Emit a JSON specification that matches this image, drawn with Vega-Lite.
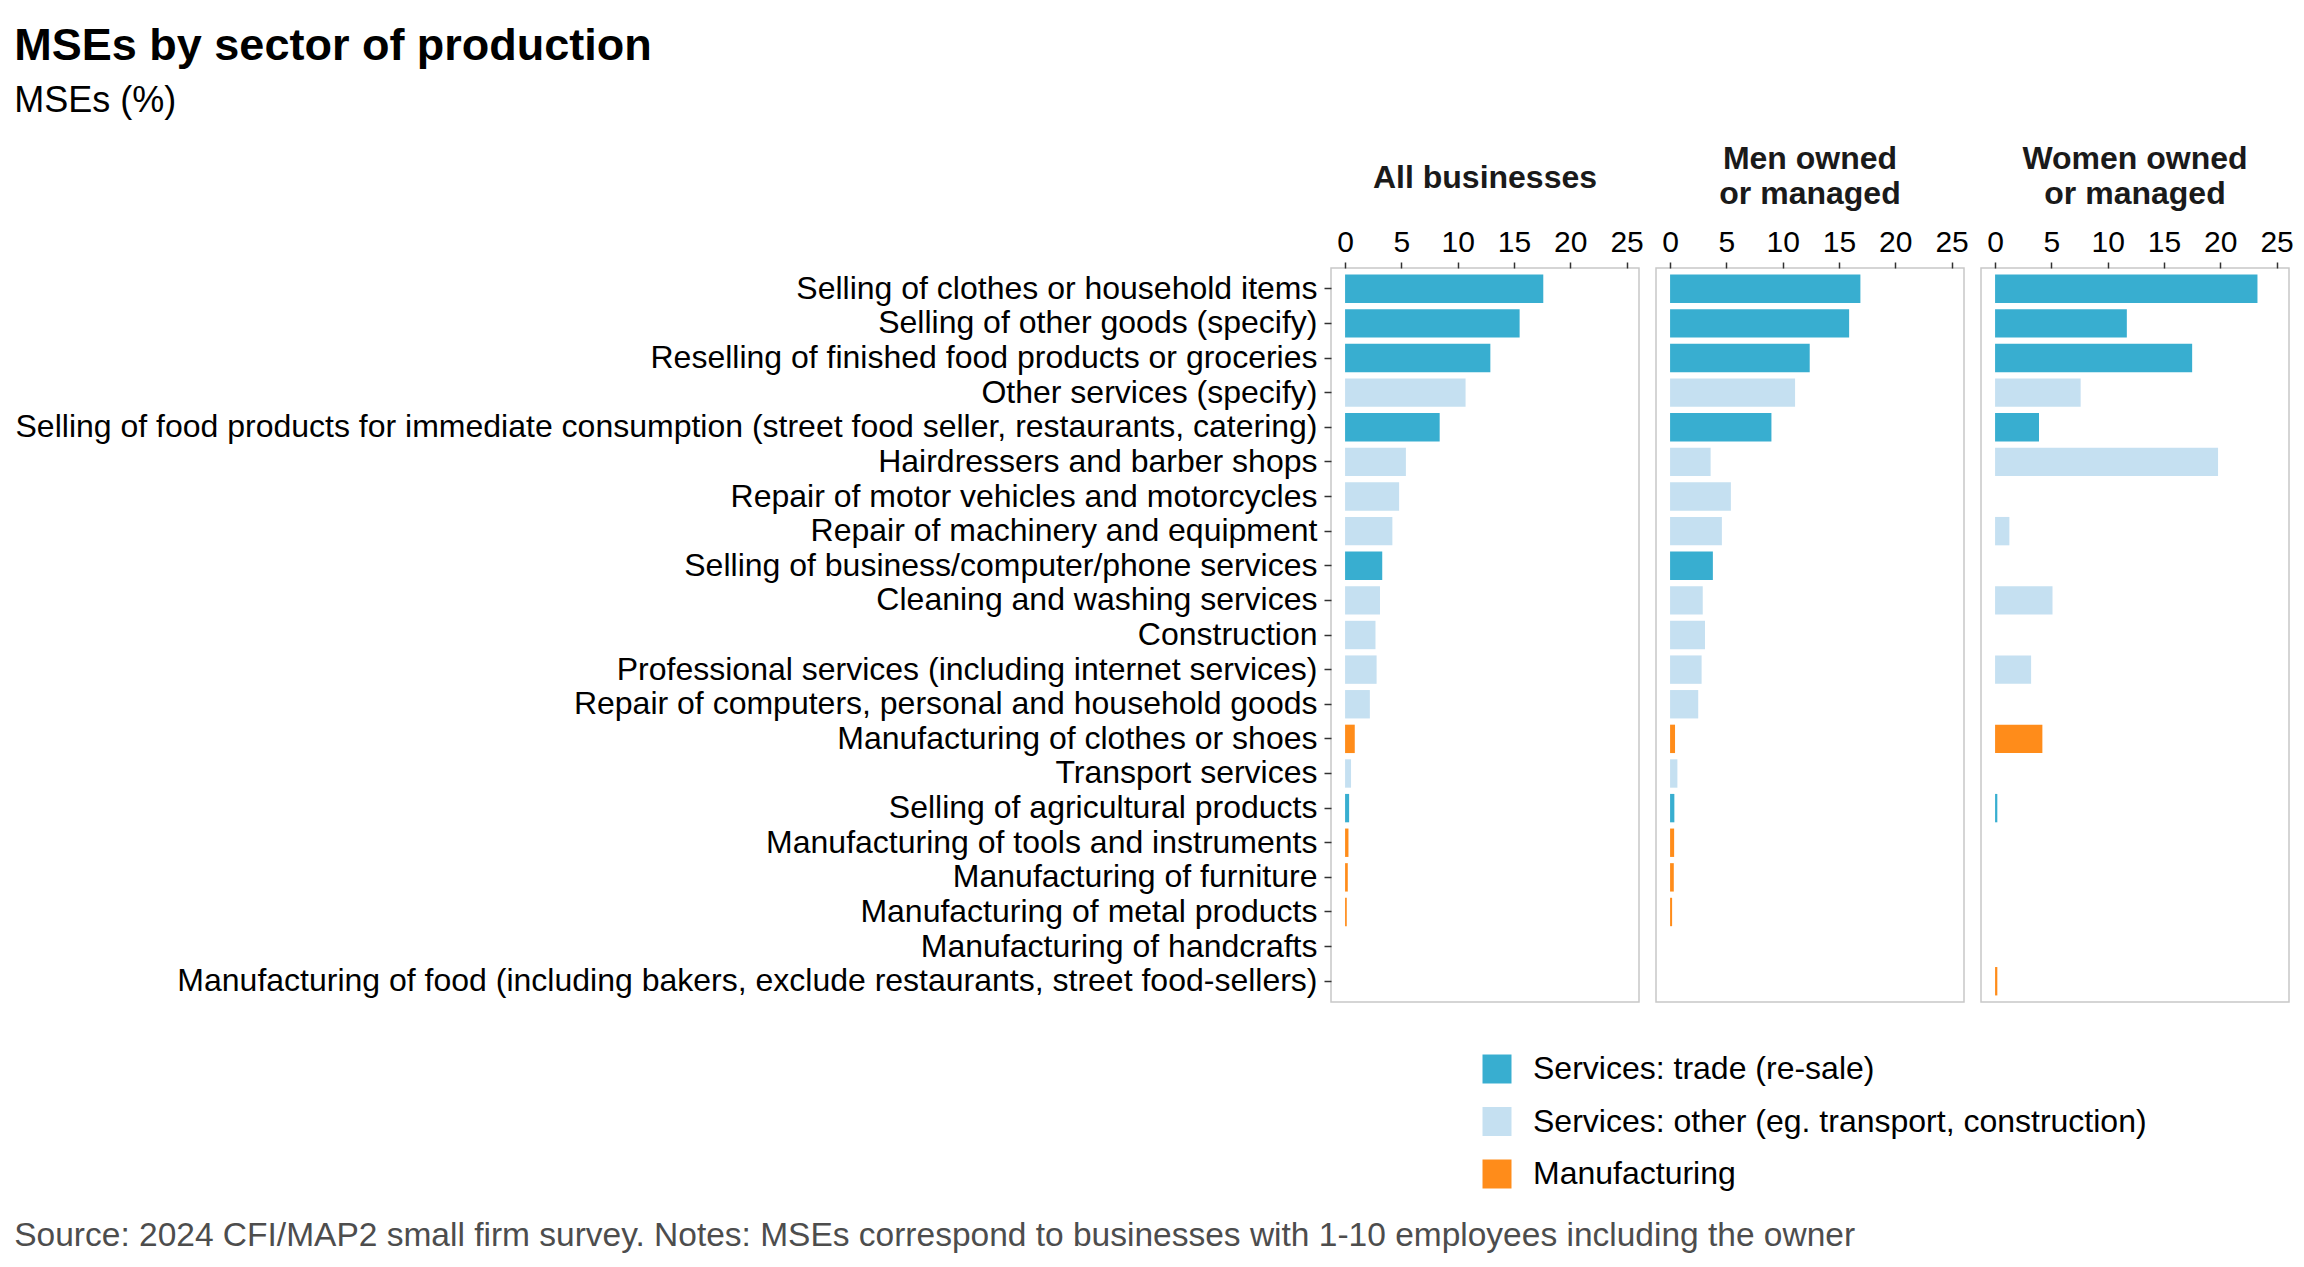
{
  "$schema": "https://vega.github.io/schema/vega-lite/v6.json",
  "background": "white",
  "padding": {"left": 14, "top": 24, "right": 14, "bottom": 14},
  "config": {
    "font": "Liberation Sans",
    "view": {"stroke": "#c8c8c8", "strokeWidth": 1.5},
    "axis": {"labelColor": "#000000", "tickColor": "#333333", "tickWidth": 1.5, "domain": false, "grid": false},
    "concat": {"spacing": 10}
  },
  "title": {
    "text": "Source: 2024 CFI/MAP2 small firm survey. Notes: MSEs correspond to businesses with 1-10 employees including the owner",
    "orient": "bottom", "anchor": "start", "frame": "bounds",
    "fontSize": 33.5, "fontWeight": "normal", "color": "#4d4d4d", "offset": 30
  },
  "datasets": {
    "d": [
      {"cat": "Selling of clothes or household items", "grp": "all", "val": 17.6, "sector": "Services: trade (re-sale)"},
      {"cat": "Selling of other goods (specify)", "grp": "all", "val": 15.5, "sector": "Services: trade (re-sale)"},
      {"cat": "Reselling of finished food products or groceries", "grp": "all", "val": 12.9, "sector": "Services: trade (re-sale)"},
      {"cat": "Other services (specify)", "grp": "all", "val": 10.7, "sector": "Services: other (eg. transport, construction)"},
      {"cat": "Selling of food products for immediate consumption (street food seller, restaurants, catering)", "grp": "all", "val": 8.4, "sector": "Services: trade (re-sale)"},
      {"cat": "Hairdressers and barber shops", "grp": "all", "val": 5.4, "sector": "Services: other (eg. transport, construction)"},
      {"cat": "Repair of motor vehicles and motorcycles", "grp": "all", "val": 4.8, "sector": "Services: other (eg. transport, construction)"},
      {"cat": "Repair of machinery and equipment", "grp": "all", "val": 4.2, "sector": "Services: other (eg. transport, construction)"},
      {"cat": "Selling of business/computer/phone services", "grp": "all", "val": 3.3, "sector": "Services: trade (re-sale)"},
      {"cat": "Cleaning and washing services", "grp": "all", "val": 3.1, "sector": "Services: other (eg. transport, construction)"},
      {"cat": "Construction", "grp": "all", "val": 2.7, "sector": "Services: other (eg. transport, construction)"},
      {"cat": "Professional services (including internet services)", "grp": "all", "val": 2.8, "sector": "Services: other (eg. transport, construction)"},
      {"cat": "Repair of computers, personal and household goods", "grp": "all", "val": 2.2, "sector": "Services: other (eg. transport, construction)"},
      {"cat": "Manufacturing of clothes or shoes", "grp": "all", "val": 0.86, "sector": "Manufacturing"},
      {"cat": "Transport services", "grp": "all", "val": 0.53, "sector": "Services: other (eg. transport, construction)"},
      {"cat": "Selling of agricultural products", "grp": "all", "val": 0.36, "sector": "Services: trade (re-sale)"},
      {"cat": "Manufacturing of tools and instruments", "grp": "all", "val": 0.3, "sector": "Manufacturing"},
      {"cat": "Manufacturing of furniture", "grp": "all", "val": 0.24, "sector": "Manufacturing"},
      {"cat": "Manufacturing of metal products", "grp": "all", "val": 0.15, "sector": "Manufacturing"},
      {"cat": "Selling of clothes or household items", "grp": "men", "val": 16.9, "sector": "Services: trade (re-sale)"},
      {"cat": "Selling of other goods (specify)", "grp": "men", "val": 15.9, "sector": "Services: trade (re-sale)"},
      {"cat": "Reselling of finished food products or groceries", "grp": "men", "val": 12.4, "sector": "Services: trade (re-sale)"},
      {"cat": "Other services (specify)", "grp": "men", "val": 11.1, "sector": "Services: other (eg. transport, construction)"},
      {"cat": "Selling of food products for immediate consumption (street food seller, restaurants, catering)", "grp": "men", "val": 9.0, "sector": "Services: trade (re-sale)"},
      {"cat": "Hairdressers and barber shops", "grp": "men", "val": 3.6, "sector": "Services: other (eg. transport, construction)"},
      {"cat": "Repair of motor vehicles and motorcycles", "grp": "men", "val": 5.4, "sector": "Services: other (eg. transport, construction)"},
      {"cat": "Repair of machinery and equipment", "grp": "men", "val": 4.6, "sector": "Services: other (eg. transport, construction)"},
      {"cat": "Selling of business/computer/phone services", "grp": "men", "val": 3.8, "sector": "Services: trade (re-sale)"},
      {"cat": "Cleaning and washing services", "grp": "men", "val": 2.9, "sector": "Services: other (eg. transport, construction)"},
      {"cat": "Construction", "grp": "men", "val": 3.1, "sector": "Services: other (eg. transport, construction)"},
      {"cat": "Professional services (including internet services)", "grp": "men", "val": 2.8, "sector": "Services: other (eg. transport, construction)"},
      {"cat": "Repair of computers, personal and household goods", "grp": "men", "val": 2.5, "sector": "Services: other (eg. transport, construction)"},
      {"cat": "Manufacturing of clothes or shoes", "grp": "men", "val": 0.44, "sector": "Manufacturing"},
      {"cat": "Transport services", "grp": "men", "val": 0.65, "sector": "Services: other (eg. transport, construction)"},
      {"cat": "Selling of agricultural products", "grp": "men", "val": 0.38, "sector": "Services: trade (re-sale)"},
      {"cat": "Manufacturing of tools and instruments", "grp": "men", "val": 0.36, "sector": "Manufacturing"},
      {"cat": "Manufacturing of furniture", "grp": "men", "val": 0.33, "sector": "Manufacturing"},
      {"cat": "Manufacturing of metal products", "grp": "men", "val": 0.18, "sector": "Manufacturing"},
      {"cat": "Selling of clothes or household items", "grp": "women", "val": 23.3, "sector": "Services: trade (re-sale)"},
      {"cat": "Selling of other goods (specify)", "grp": "women", "val": 11.7, "sector": "Services: trade (re-sale)"},
      {"cat": "Reselling of finished food products or groceries", "grp": "women", "val": 17.5, "sector": "Services: trade (re-sale)"},
      {"cat": "Other services (specify)", "grp": "women", "val": 7.6, "sector": "Services: other (eg. transport, construction)"},
      {"cat": "Selling of food products for immediate consumption (street food seller, restaurants, catering)", "grp": "women", "val": 3.9, "sector": "Services: trade (re-sale)"},
      {"cat": "Hairdressers and barber shops", "grp": "women", "val": 19.8, "sector": "Services: other (eg. transport, construction)"},
      {"cat": "Repair of machinery and equipment", "grp": "women", "val": 1.27, "sector": "Services: other (eg. transport, construction)"},
      {"cat": "Cleaning and washing services", "grp": "women", "val": 5.1, "sector": "Services: other (eg. transport, construction)"},
      {"cat": "Professional services (including internet services)", "grp": "women", "val": 3.2, "sector": "Services: other (eg. transport, construction)"},
      {"cat": "Manufacturing of clothes or shoes", "grp": "women", "val": 4.2, "sector": "Manufacturing"},
      {"cat": "Selling of agricultural products", "grp": "women", "val": 0.2, "sector": "Services: trade (re-sale)"},
      {"cat": "Manufacturing of food (including bakers, exclude restaurants, street food-sellers)", "grp": "women", "val": 0.2, "sector": "Manufacturing"}
    ]
  },
  "data": {"name": "d"},
  "vconcat": [
    {
      "title": {
        "text": "MSEs by sector of production",
        "subtitle": "MSEs (%)",
        "anchor": "start", "frame": "bounds",
        "fontSize": 45, "fontWeight": "bold", "color": "#000000",
        "subtitleFontSize": 36, "subtitleColor": "#000000", "subtitlePadding": 15,
        "offset": 23
      },
      "hconcat": [
        {
          "title": {"text": "All businesses", "fontSize": 32, "fontWeight": "bold", "color": "#1a1a1a", "anchor": "middle", "offset": 32},
          "width": 308, "height": 734,
          "transform": [{"filter": "datum.grp === 'all'"}],
          "mark": {"type": "bar"},
          "encoding": {
            "y": {
              "field": "cat", "type": "nominal",
              "scale": {"domain": ["Selling of clothes or household items", "Selling of other goods (specify)", "Reselling of finished food products or groceries", "Other services (specify)", "Selling of food products for immediate consumption (street food seller, restaurants, catering)", "Hairdressers and barber shops", "Repair of motor vehicles and motorcycles", "Repair of machinery and equipment", "Selling of business/computer/phone services", "Cleaning and washing services", "Construction", "Professional services (including internet services)", "Repair of computers, personal and household goods", "Manufacturing of clothes or shoes", "Transport services", "Selling of agricultural products", "Manufacturing of tools and instruments", "Manufacturing of furniture", "Manufacturing of metal products", "Manufacturing of handcrafts", "Manufacturing of food (including bakers, exclude restaurants, street food-sellers)"], "paddingInner": 0.18, "paddingOuter": 0.19},
              "axis": {"title": null, "labelFontSize": 32, "labelLimit": 0, "tickSize": 7, "labelPadding": 7}
            },
            "x": {
              "field": "val", "type": "quantitative",
              "scale": {"domain": [-1.25, 26.1], "nice": false, "zero": false},
              "axis": {"orient": "top", "title": null, "values": [0, 5, 10, 15, 20, 25], "labelFontSize": 30, "tickSize": 6, "labelPadding": 5}
            },
            "x2": {"datum": 0},
            "color": {
              "field": "sector", "type": "nominal",
              "scale": {
                "domain": ["Services: trade (re-sale)", "Services: other (eg. transport, construction)", "Manufacturing"],
                "range": ["#38AED0", "#C5E0F1", "#FF8C1A"]
              },
              "legend": {
                "title": null, "orient": "none", "legendX": 150, "legendY": 785,
                "direction": "vertical", "symbolType": "square", "symbolSize": 841, "symbolStrokeWidth": 0,
                "labelFontSize": 32, "labelColor": "#000000", "labelOffset": 20, "labelLimit": 0, "rowPadding": 20.5
              }
            }
          }
        },
        {
          "title": {"text": ["Men owned", "or managed"], "fontSize": 32, "fontWeight": "bold", "color": "#1a1a1a", "anchor": "middle", "offset": 16, "lineHeight": 35},
          "width": 308, "height": 734,
          "transform": [{"filter": "datum.grp === 'men'"}],
          "mark": {"type": "bar"},
          "encoding": {
            "y": {
              "field": "cat", "type": "nominal",
              "scale": {"domain": ["Selling of clothes or household items", "Selling of other goods (specify)", "Reselling of finished food products or groceries", "Other services (specify)", "Selling of food products for immediate consumption (street food seller, restaurants, catering)", "Hairdressers and barber shops", "Repair of motor vehicles and motorcycles", "Repair of machinery and equipment", "Selling of business/computer/phone services", "Cleaning and washing services", "Construction", "Professional services (including internet services)", "Repair of computers, personal and household goods", "Manufacturing of clothes or shoes", "Transport services", "Selling of agricultural products", "Manufacturing of tools and instruments", "Manufacturing of furniture", "Manufacturing of metal products", "Manufacturing of handcrafts", "Manufacturing of food (including bakers, exclude restaurants, street food-sellers)"], "paddingInner": 0.18, "paddingOuter": 0.19},
              "axis": null
            },
            "x": {
              "field": "val", "type": "quantitative",
              "scale": {"domain": [-1.25, 26.1], "nice": false, "zero": false},
              "axis": {"orient": "top", "title": null, "values": [0, 5, 10, 15, 20, 25], "labelFontSize": 30, "tickSize": 6, "labelPadding": 5}
            },
            "x2": {"datum": 0},
            "color": {"field": "sector", "type": "nominal"}
          }
        },
        {
          "title": {"text": ["Women owned", "or managed"], "fontSize": 32, "fontWeight": "bold", "color": "#1a1a1a", "anchor": "middle", "offset": 16, "lineHeight": 35},
          "width": 308, "height": 734,
          "transform": [{"filter": "datum.grp === 'women'"}],
          "mark": {"type": "bar"},
          "encoding": {
            "y": {
              "field": "cat", "type": "nominal",
              "scale": {"domain": ["Selling of clothes or household items", "Selling of other goods (specify)", "Reselling of finished food products or groceries", "Other services (specify)", "Selling of food products for immediate consumption (street food seller, restaurants, catering)", "Hairdressers and barber shops", "Repair of motor vehicles and motorcycles", "Repair of machinery and equipment", "Selling of business/computer/phone services", "Cleaning and washing services", "Construction", "Professional services (including internet services)", "Repair of computers, personal and household goods", "Manufacturing of clothes or shoes", "Transport services", "Selling of agricultural products", "Manufacturing of tools and instruments", "Manufacturing of furniture", "Manufacturing of metal products", "Manufacturing of handcrafts", "Manufacturing of food (including bakers, exclude restaurants, street food-sellers)"], "paddingInner": 0.18, "paddingOuter": 0.19},
              "axis": null
            },
            "x": {
              "field": "val", "type": "quantitative",
              "scale": {"domain": [-1.25, 26.1], "nice": false, "zero": false},
              "axis": {"orient": "top", "title": null, "values": [0, 5, 10, 15, 20, 25], "labelFontSize": 30, "tickSize": 6, "labelPadding": 5}
            },
            "x2": {"datum": 0},
            "color": {"field": "sector", "type": "nominal"}
          }
        }
      ]
    }
  ]
}
